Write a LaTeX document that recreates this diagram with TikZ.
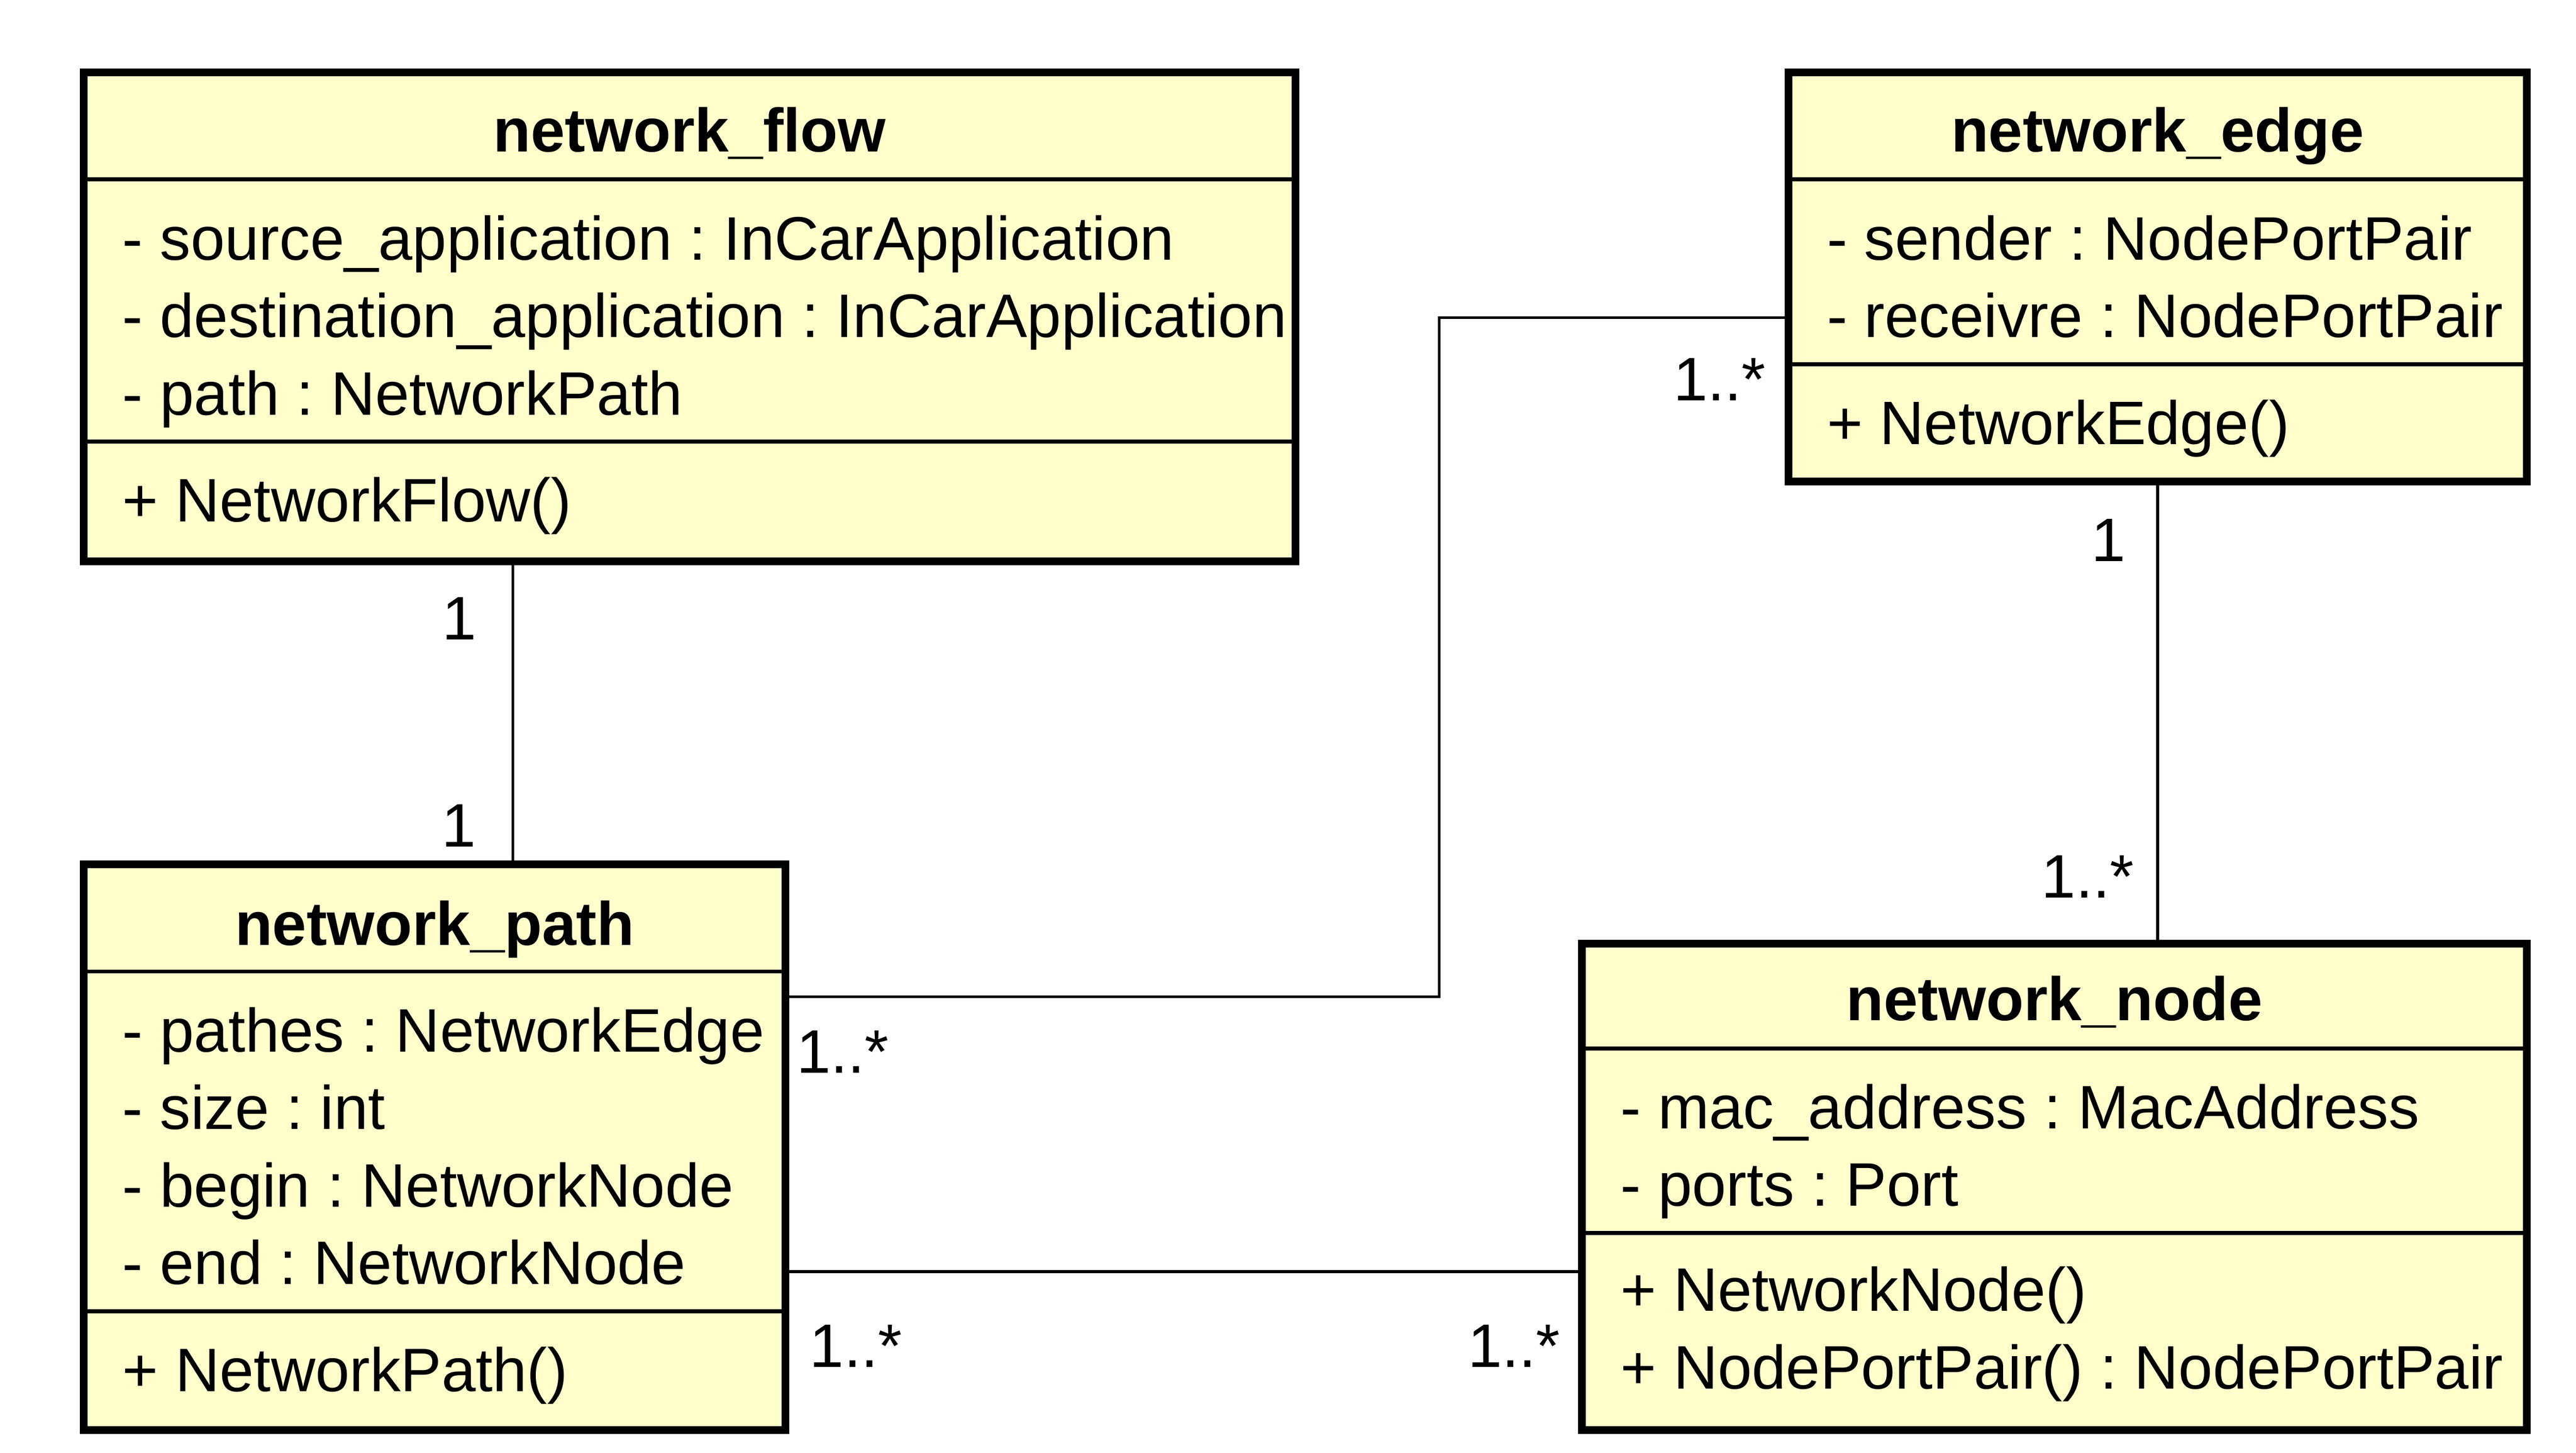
\documentclass[tikz,border=0pt]{standalone}
\usepackage{fontspec}
\setmainfont{Liberation Sans}
\frenchspacing
\definecolor{classfill}{HTML}{FFFFCC}
\tikzset{
  classbox/.style={draw, fill=classfill, line width=2.35pt, outer sep=0pt, inner sep=0pt, anchor=north west},
  divider/.style={line width=1.2pt},
  classname/.style={font=\fontsize{18.6pt}{23.5pt}\selectfont\bfseries, inner sep=0pt, anchor=base},
  members/.style={font=\fontsize{18.6pt}{23.5pt}\selectfont, inner sep=0pt, anchor=base west, text width=420pt, align=left,
    execute at begin node=\spaceskip0pt\xspaceskip0pt\relax},
  mult/.style={font=\fontsize{18.6pt}{23.5pt}\selectfont, inner sep=0pt, anchor=base west},
  assoc/.style={line width=0.8pt}
}
\begin{document}
\begin{tikzpicture}[x=0.5pt, y=-0.5pt]
    \useasboundingbox (0,0) rectangle (1560,879.7);

    % network_flow
    \node[classbox, minimum width=366.85pt, minimum height=148pt] (flowbox) at (50.8,43.8) {};
    \draw[divider] (flowbox.west |- 0,108.5) -- (flowbox.east |- 0,108.5);
    \draw[divider] (flowbox.west |- 0,267.3) -- (flowbox.east |- 0,267.3);
    \node[classname] (flowname) at (flowbox.north |- 0,92) {network\_flow};
    \node[members] (flowattr) at (73.8,157.3) {- source\_application : InCarApplication\\- destination\_application : InCarApplication\\- path : NetworkPath};
    \node[members] (flowops) at (73.8,316) {+ NetworkFlow()};

    % network_edge
    \node[classbox, minimum width=223.65pt, minimum height=123.85pt] (edgebox) at (1083,43.8) {};
    \draw[divider] (edgebox.west |- 0,108.5) -- (edgebox.east |- 0,108.5);
    \draw[divider] (edgebox.west |- 0,220.5) -- (edgebox.east |- 0,220.5);
    \node[classname] (edgename) at (edgebox.north |- 0,92) {network\_edge};
    \node[members] (edgeattr) at (1106,157.3) {- sender : NodePortPair\\- receivre : NodePortPair};
    \node[members] (edgeops) at (1106,269.1) {+ NetworkEdge()};

    % network_path
    \node[classbox, minimum width=212.4pt, minimum height=171.35pt] (pathbox) at (50.8,523.3) {};
    \draw[divider] (pathbox.west |- 0,588.3) -- (pathbox.east |- 0,588.3);
    \draw[divider] (pathbox.west |- 0,794) -- (pathbox.east |- 0,794);
    \node[classname] (pathname) at (pathbox.north |- 0,572.3) {network\_path};
    \node[members] (pathattr) at (73.8,636.8) {- pathes : NetworkEdge\\- size : int\\- begin : NetworkNode\\- end : NetworkNode};
    \node[members] (pathops) at (73.8,842.4) {+ NetworkPath()};

    % network_node
    \node[classbox, minimum width=286.15pt, minimum height=147.3pt] (nodebox) at (958,571.4) {};
    \draw[divider] (nodebox.west |- 0,635) -- (nodebox.east |- 0,635);
    \draw[divider] (nodebox.west |- 0,746.5) -- (nodebox.east |- 0,746.5);
    \node[classname] (nodename) at (nodebox.north |- 0,618) {network\_node};
    \node[members] (nodeattr) at (981,683.3) {- mac\_address : MacAddress\\- ports : Port};
    \node[members] (nodeops) at (981,794) {+ NetworkNode()\\+ NodePortPair() : NodePortPair};

    % associations
    \coordinate (fp) at (310.7,0);
    \coordinate (pe) at (871.6,603.5);
    \coordinate (ep) at (871.6,192.3);
    \coordinate (pn) at (700,770);
    \draw[assoc] (flowbox.south -| fp) -- (pathbox.north -| fp);
    \draw[assoc] (pathbox.east |- pe) -- (pe) -- (ep) -- (edgebox.west |- ep);
    \draw[assoc] (pathbox.east |- pn) -- (nodebox.west |- pn);
    \draw[assoc] (edgebox.south) -- (edgebox.south |- nodebox.north);

    % multiplicities
    \node[mult] (flowone) at (267.5,387.3) {1};
    \node[mult] (pathone) at (267,512.9) {1};
    \node[mult] (pathmanyE) at (482,649.6) {1..*};
    \node[mult] (edgemanyP) at (1013,242.6) {1..*};
    \node[mult] (pathmanyN) at (490,827.8) {1..*};
    \node[mult] (nodemanyP) at (888.6,828) {1..*};
    \node[mult] (edgeone) at (1266,340) {1};
    \node[mult] (nodemanyE) at (1236,543.5) {1..*};
\end{tikzpicture}
\end{document}
